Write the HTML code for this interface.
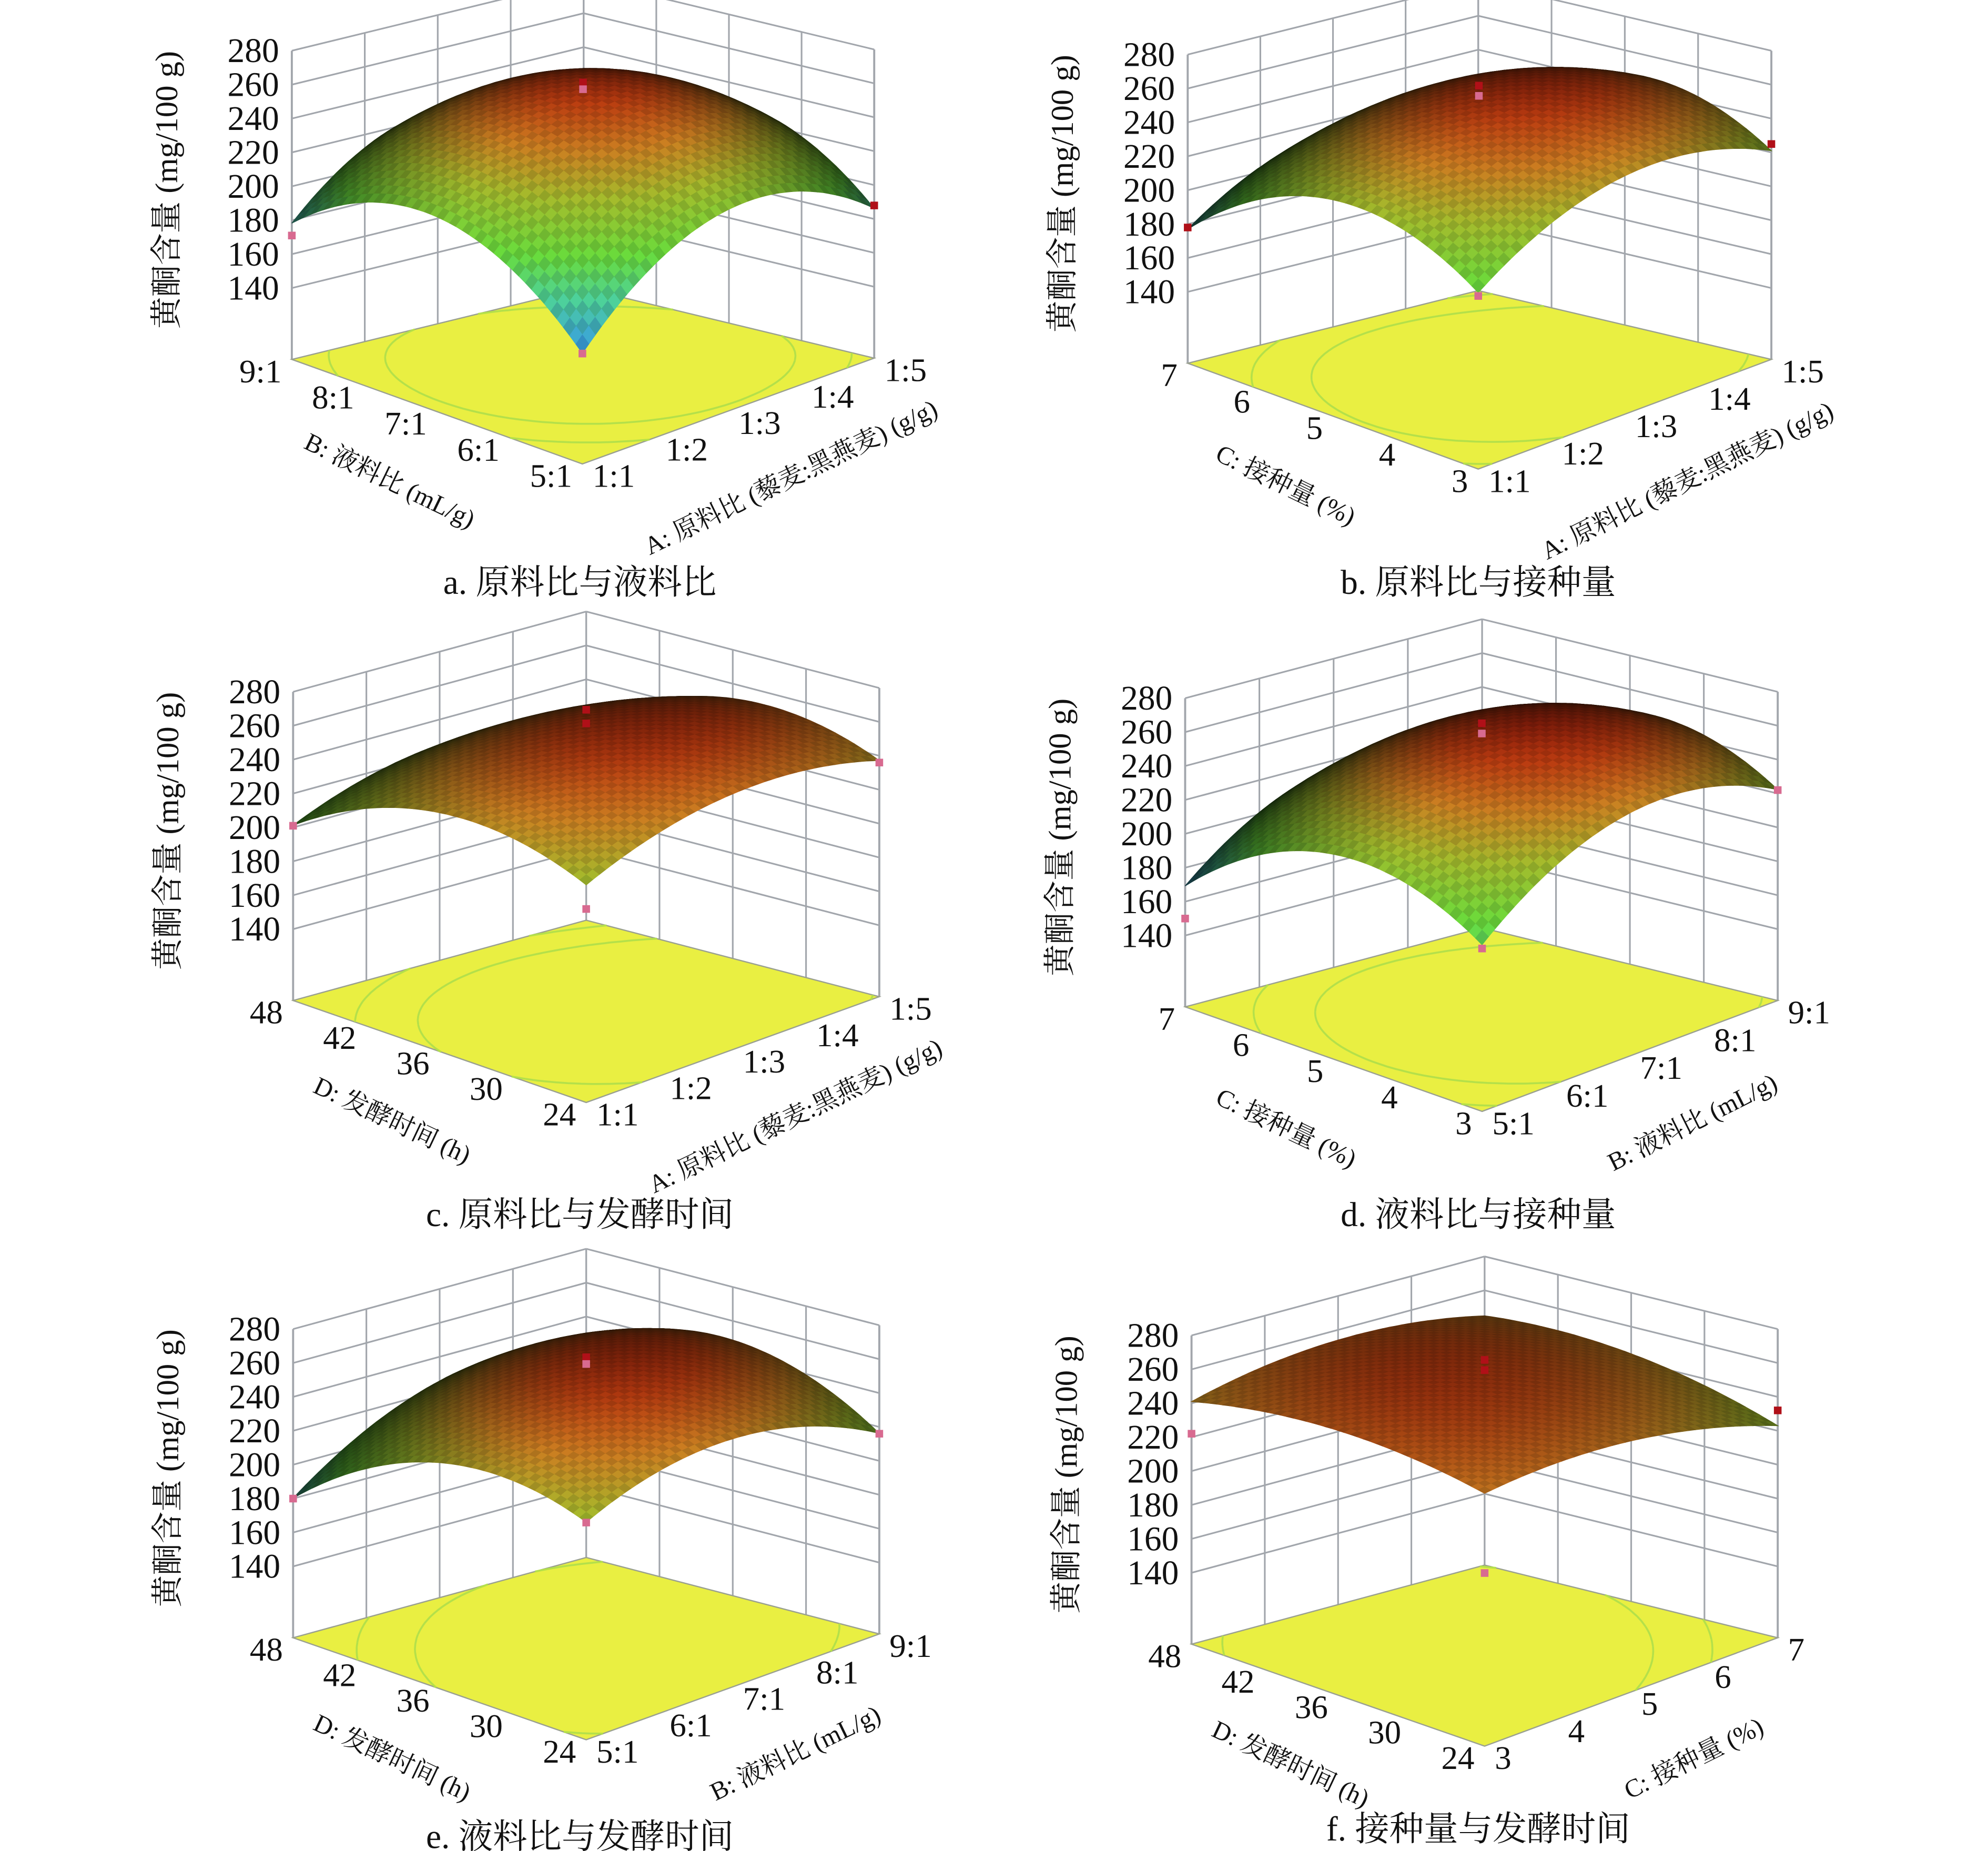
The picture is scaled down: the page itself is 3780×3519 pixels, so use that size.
<!DOCTYPE html>
<html><head><meta charset="utf-8"><style>
html,body{margin:0;padding:0;background:#fff;}
svg{display:block;}
</style></head><body>
<svg id="fig" xmlns="http://www.w3.org/2000/svg" width="3780" height="3519" viewBox="0 0 1560 1452.3" preserveAspectRatio="none"></svg>
<script>
// ---- data (model coefficients in coded units, per panel a-f) ----
const panelIds=['a','b','c','d','e','f'];
const intercept=[263,263,262,265,263,260];
const linLeft=[4.25,-11.5,-11.75,-12.25,-9.25,4];
const linRight=[8.25,10.5,6.25,14.25,8.75,-5];
const quadLeft=[-42,-36,-25,-36,-28,-10];
const quadRight=[-42,-27,-17,-32,-23,-11];
const interLR=[-3.25,1,0.75,1.25,13.75,7];
const zTicks=[140,160,180,200,220,240,260,280];
const ratioTicks=["1:1","1:2","1:3","1:4","1:5"];
const liquidTicks=["5:1","6:1","7:1","8:1","9:1"];
const inocTicks=["3","4","5","6","7"];
const timeTicks=["24","30","36","42","48"];
const leftTickSets=[liquidTicks,inocTicks,timeTicks,inocTicks,timeTicks,timeTicks];
const rightTickSets=[ratioTicks,ratioTicks,ratioTicks,liquidTicks,liquidTicks,inocTicks];
const leftTitles=["B: 液料比 (mL/g)","C: 接种量 (%)","D: 发酵时间 (h)","C: 接种量 (%)","D: 发酵时间 (h)","D: 发酵时间 (h)"];
const rightTitles=["A: 原料比 (藜麦:黑燕麦) (g/g)","A: 原料比 (藜麦:黑燕麦) (g/g)","A: 原料比 (藜麦:黑燕麦) (g/g)","B: 液料比 (mL/g)","B: 液料比 (mL/g)","C: 接种量 (%)"];
const panelTitles=["a. 原料比与液料比","b. 原料比与接种量","c. 原料比与发酵时间","d. 液料比与接种量","e. 液料比与发酵时间","f. 接种量与发酵时间"];
const contourFrac=[0.35,0.6];
const colorRange=[150,270];
// design points: [left coded, right coded, response]
const designLeft=[[0,0,-1,1,-1],[0,0,-1,1,-1],[0,0,-1,1,-1],[0,0,-1,1,-1],[0,0,-1,1,-1],[0,0,-1,1,-1]];
const designRight=[[0,0,-1,-1,1],[0,0,-1,-1,1],[0,0,-1,-1,1],[0,0,-1,-1,1],[0,0,-1,-1,1],[0,0,-1,-1,1]];
const designResp=[[266,262,163,171,188],[266,260,200,178,225],[272,264,212,201,236],[268,262,194,150,222],[266,262,226,180,216],[268,262,200,222,232]];

// ---- layout (floor corners: front, left, right, back) ----
const layout=[
 {F:[457,364],L:[229,282],R:[686,281],B:[458,226],tx:455,ty:466},
 {F:[1160,368],L:[932,285],R:[1390,282],B:[1160,228],tx:1160,ty:466},
 {F:[460,865],L:[230,785],R:[690,782],B:[460,722],tx:455,ty:962},
 {F:[1163,872],L:[930,790],R:[1395,785],B:[1163,728],tx:1160,ty:962},
 {F:[460,1365],L:[230,1285],R:[690,1282],B:[460,1222],tx:455,ty:1450},
 {F:[1165,1370],L:[935,1290],R:[1395,1285],B:[1165,1228],tx:1160,ty:1444}
];
const NS="http://www.w3.org/2000/svg";
const FONT='"Liberation Serif","Noto Serif CJK SC",serif';
const svg=document.getElementById('fig');
const ZK=1.33, ZF=97.9, N=46;
function off(z){return (z-ZF)*ZK;}
function proj(g,u,v,z){
  const x=g.F[0]*(1-u)*(1-v)+g.L[0]*u*(1-v)+g.R[0]*(1-u)*v+g.B[0]*u*v;
  const y=g.F[1]*(1-u)*(1-v)+g.L[1]*u*(1-v)+g.R[1]*(1-u)*v+g.B[1]*u*v;
  return [x, y-(z===null?0:off(z))];
}
function model(p,x,y){return intercept[p]+linLeft[p]*x+linRight[p]*y+quadLeft[p]*x*x+quadRight[p]*y*y+interLR[p]*x*y;}
const stops=[[0,[30,70,210]],[0.12,[50,140,210]],[0.3,[70,190,140]],[0.45,[95,200,55]],[0.65,[150,170,40]],[0.8,[185,115,30]],[0.92,[170,55,15]],[1,[135,25,10]]];
function cmap(t){
  if(t<=0)return stops[0][1];
  for(let i=1;i<stops.length;i++){if(t<=stops[i][0]){const a=stops[i-1],b=stops[i];const s=(t-a[0])/(b[0]-a[0]);return a[1].map((c,k)=>c+(b[1][k]-c)*s);}}
  return stops[stops.length-1][1];
}
function pts(arr){return arr.map(p=>p[0].toFixed(1)+','+p[1].toFixed(1)).join(' ');}
function mk(tag,parent){const e=document.createElementNS(NS,tag);parent.appendChild(e);return e;}

panelIds.forEach((id,p)=>{
  const g=layout[p];
  let zmin=1e9,zmax=-1e9;
  for(let i=0;i<=N;i++)for(let j=0;j<=N;j++){const z=model(p,2*i/N-1,2*j/N-1);zmin=Math.min(zmin,z);zmax=Math.max(zmax,z);}
  const grp=mk('g',svg);
  
  
  const wall=mk('g',grp);
  
  
  const wc='#a2a6ac';
  function line(a,b,name,w){
    const l=mk('line',wall);
    l.setAttribute('x1',a[0]);l.setAttribute('y1',a[1]);l.setAttribute('x2',b[0]);l.setAttribute('y2',b[1]);
    l.setAttribute('stroke',wc);l.setAttribute('stroke-width',w||1.3);
    
    
  }
  for(let k=0;k<=4;k++){
    const t=k/4;
    line(proj(g,1,t,null),proj(g,1,t,280),'left-wall-vline',k===0?1.6:1.3);
    line(proj(g,t,1,null),proj(g,t,1,280),'right-wall-vline',k===0?1.6:1.3);
  }
  zTicks.forEach(z=>{
    line(proj(g,1,0,z),proj(g,1,1,z),'left-wall-hline');
    line(proj(g,0,1,z),proj(g,1,1,z),'right-wall-hline');
  });
  const fl=mk('polygon',grp);
  fl.setAttribute('points',pts([g.F,g.L,g.B,g.R]));
  fl.setAttribute('fill','#e9ef42');
  fl.setAttribute('stroke','#9aa090');
  fl.setAttribute('stroke-width','1');
  
  
  const M=40;
  contourFrac.forEach(fr=>{
    const lev=zmin+(zmax-zmin)*fr;
    let d='';
    for(let i=0;i<M;i++)for(let j=0;j<M;j++){
      const u0=i/M,u1=(i+1)/M,v0=j/M,v1=(j+1)/M;
      const c=[[u0,v0],[u1,v0],[u1,v1],[u0,v1]];
      const vals=c.map(q=>model(p,2*q[0]-1,2*q[1]-1)-lev);
      const seg=[];
      for(let e=0;e<4;e++){
        const a=vals[e],b=vals[(e+1)%4];
        if((a<0)!==(b<0)){const t=a/(a-b);const qa=c[e],qb=c[(e+1)%4];seg.push([qa[0]+(qb[0]-qa[0])*t,qa[1]+(qb[1]-qa[1])*t]);}
      }
      if(seg.length>=2){const s0=proj(g,seg[0][0],seg[0][1],null),s1=proj(g,seg[1][0],seg[1][1],null);d+='M'+s0[0].toFixed(1)+' '+s0[1].toFixed(1)+'L'+s1[0].toFixed(1)+' '+s1[1].toFixed(1);}
    }
    if(d){
      const pa=mk('path',grp);
      pa.setAttribute('d',d);
      pa.setAttribute('stroke','#b4e04a');
      pa.setAttribute('stroke-width','1.5');
      pa.setAttribute('fill','none');
      
      
    }
  });
  const cells=[];
  for(let i=0;i<N;i++)for(let j=0;j<N;j++)cells.push([i,j]);
  cells.sort((a,b)=>(b[0]+b[1])-(a[0]+a[1]));
  const lx=-0.55,ly=-0.55,lz=0.63;
  const sg=mk('g',grp);
  
  
  cells.forEach(([i,j])=>{
    const u0=i/N,u1=(i+1)/N,v0=j/N,v1=(j+1)/N;
    const q=[[u0,v0],[u1,v0],[u1,v1],[u0,v1]].map(c=>proj(g,c[0],c[1],model(p,2*c[0]-1,2*c[1]-1)));
    const uc=(u0+u1)/2,vc=(v0+v1)/2,x=2*uc-1,y=2*vc-1;
    const zc=model(p,x,y);
    const dx=linLeft[p]+2*quadLeft[p]*x+interLR[p]*y;
    const dy=linRight[p]+2*quadRight[p]*y+interLR[p]*x;
    const nx=-dx/60,ny=-dy/60,nz=1,nl=Math.hypot(nx,ny,nz);
    let I=(nx*lx+ny*ly+nz*lz)/nl; if(I<0)I=0;
    const br=Math.min(1.1,0.04+1.2*I);
    const chk=((i+j)%2)?1.0:0.88;
    const col=cmap((zc-colorRange[0])/(colorRange[1]-colorRange[0])).map(c=>Math.max(0,Math.min(255,Math.round(c*br*chk))));
    const pg=mk('polygon',sg);
    pg.setAttribute('points',pts(q));
    pg.setAttribute('fill','rgb('+col.join(',')+')');
    pg.setAttribute('stroke','rgb('+col.join(',')+')');
    pg.setAttribute('stroke-width','0.6');
    
    
  });
  designResp[p].forEach((r,k)=>{
    const u=(designLeft[p][k]+1)/2,v=(designRight[p][k]+1)/2;
    const s=proj(g,u,v,r);
    const above=r>=model(p,designLeft[p][k],designRight[p][k]);
    const rc=mk('rect',grp);
    rc.setAttribute('x',(s[0]-3).toFixed(1));rc.setAttribute('y',(s[1]-3).toFixed(1));
    rc.setAttribute('width','6');rc.setAttribute('height','6');
    rc.setAttribute('fill',above?'#b01018':'#d86a90');
    
    
  });
  function txt(x,y,s,size,anchor,transform){
    const t=mk('text',grp);
    if(transform){t.setAttribute('transform',transform);}else{t.setAttribute('x',x);t.setAttribute('y',y);}
    t.setAttribute('text-anchor',anchor);t.setAttribute('font-size',size);
    t.setAttribute('font-family',FONT);t.setAttribute('fill','#111');
    t.textContent=s;
    return t;
  }
  zTicks.forEach(z=>{
    const s=proj(g,1,0,z);
    const t=txt((s[0]-10).toFixed(1),(s[1]+9).toFixed(1),z,27,'end');
    
    
  });
  const yt=txt(0,0,'黄酮含量 (mg/100 g)',25,'middle','translate('+(g.L[0]-90)+','+(g.L[1]-133)+') rotate(-90)');
  
  
  leftTickSets[p].forEach((lab,k)=>{
    const s=proj(g,k/4,0,null);
    const t=txt((s[0]-8).toFixed(1),(s[1]+18).toFixed(1),lab,26,'end');
    
    
  });
  rightTickSets[p].forEach((lab,k)=>{
    const s=proj(g,0,k/4,null);
    const t=txt((s[0]+8).toFixed(1),(s[1]+18).toFixed(1),lab,26,'start');
    
    
  });
  const angL=Math.atan2(g.F[1]-g.L[1],g.F[0]-g.L[0])*180/Math.PI+6;
  const mL=[(g.F[0]+g.L[0])/2-40,(g.F[1]+g.L[1])/2+60];
  const at=txt(0,0,leftTitles[p],20,'middle','translate('+mL[0].toFixed(1)+','+mL[1].toFixed(1)+') rotate('+angL.toFixed(1)+')');
  
  
  const angR=Math.atan2(g.R[1]-g.F[1],g.R[0]-g.F[0])*180/Math.PI-6;
  const mR=[(g.F[0]+g.R[0])/2+52,(g.F[1]+g.R[1])/2+58];
  const bt=txt(0,0,rightTitles[p],20,'middle','translate('+mR[0].toFixed(1)+','+mR[1].toFixed(1)+') rotate('+angR.toFixed(1)+')');
  
  
  const pt=txt(g.tx,g.ty,panelTitles[p],27,'middle');
  
  
});
</script>
</body></html>
